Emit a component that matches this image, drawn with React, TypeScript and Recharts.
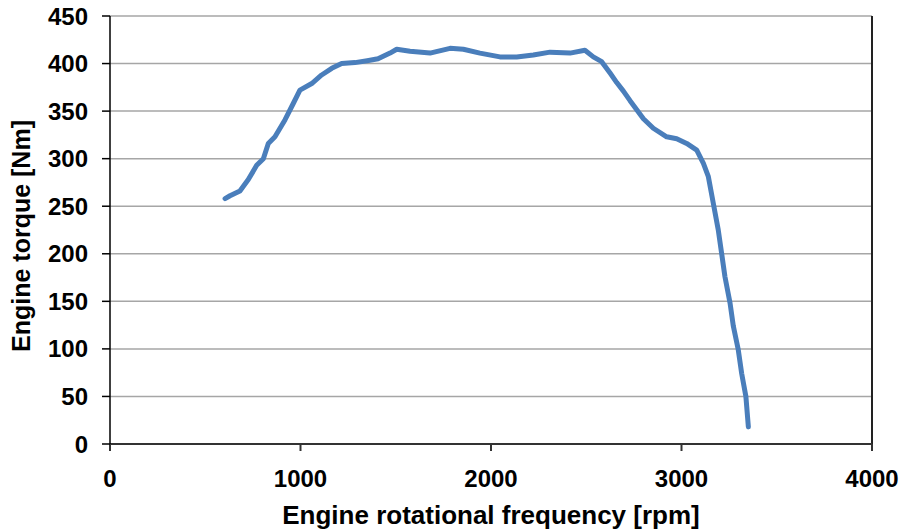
import { LineChart, Line, XAxis, YAxis, CartesianGrid, ReferenceLine, Label } from 'recharts';

// Full-load torque curve, engine speed in rpm vs torque in Nm
const rpm = [
  604, 630, 682, 726, 770, 805, 831, 866, 919, 962, 997, 1059, 1111, 1164, 1216, 1286, 1350, 1407,
  1470, 1505, 1575, 1680, 1785, 1855, 1942, 2047, 2135, 2222, 2310, 2415, 2493, 2537, 2581, 2625,
  2660, 2695, 2730, 2800, 2852, 2922, 2975, 3027, 3080, 3115, 3141, 3167, 3193, 3211, 3228, 3255,
  3272, 3298, 3316, 3338, 3351,
];
const torque = [
  258, 261, 266, 278, 293, 300, 316, 323, 341, 358, 372, 379, 388, 395, 400, 401, 403, 405,
  411, 415, 413, 411, 416, 415, 411, 407, 407, 409, 412, 411, 414, 407, 402, 390,
  380, 371, 361, 342, 332, 323, 321, 316, 309, 295, 281, 253, 225, 200, 176, 148,
  124, 99, 74, 50, 18,
];

const xTicks = [0, 1000, 2000, 3000, 4000];
const yTicks = [0, 50, 100, 150, 200, 250, 300, 350, 400, 450];

const data = rpm.map((r, i) => ({ rpm: r, torque: torque[i] }));

const FONT = '"Liberation Sans", Arial, sans-serif';
const tickStyle = { fontFamily: FONT, fontSize: 24, fontWeight: 700, fill: '#000' };

export default function App() {
  return (
    <div style={{ position: 'absolute', left: 0, top: 0, background: '#fff' }}>
      <LineChart width={904} height={532} data={data} margin={{ top: 16, right: 32, left: 30, bottom: 28 }}>
        <CartesianGrid vertical={false} stroke="#a6a6a6" strokeWidth={1.5} />
        <XAxis
          dataKey="rpm"
          type="number"
          domain={[0, 4000]}
          ticks={xTicks}
          height={60}
          tickSize={7}
          tickMargin={19}
          stroke="#333"
          strokeWidth={2}
          tick={tickStyle}
        >
          <Label
            content={({ viewBox }: any) => (
              <text
                x={viewBox.x + viewBox.width / 2}
                y={viewBox.y + 80}
                textAnchor="middle"
                style={{ fontFamily: FONT, fontSize: 26, fontWeight: 700, fill: '#000' }}
              >
                Engine rotational frequency [rpm]
              </text>
            )}
          />
        </XAxis>
        <YAxis
          type="number"
          domain={[0, 450]}
          ticks={yTicks}
          width={80}
          tickSize={8}
          tickMargin={14}
          stroke="#000"
          strokeWidth={1.5}
          tick={tickStyle}
        >
          <Label
            content={({ viewBox }: any) => {
              const cx = viewBox.x - 9;
              const cy = viewBox.y + viewBox.height / 2 + 6;
              return (
                <text
                  x={cx}
                  y={cy}
                  textAnchor="middle"
                  dominantBaseline="central"
                  transform={`rotate(-90 ${cx} ${cy})`}
                  style={{ fontFamily: FONT, fontSize: 25, fontWeight: 700, fill: '#000' }}
                >
                  Engine torque [Nm]
                </text>
              );
            }}
          />
        </YAxis>
        <ReferenceLine x={4000} stroke="#222" strokeWidth={2} />
        <Line
          type="linear"
          dataKey="torque"
          stroke="#4a7ebb"
          strokeWidth={5}
          dot={false}
          isAnimationActive={false}
          strokeLinejoin="round"
          strokeLinecap="round"
        />
      </LineChart>
    </div>
  );
}
